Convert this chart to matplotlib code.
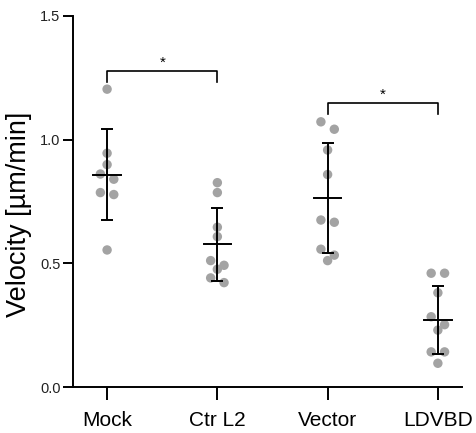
import numpy as np
import matplotlib
matplotlib.use("Agg")
import matplotlib.pyplot as plt

plt.rcParams["font.family"] = ["Liberation Sans", "DejaVu Sans"]

# data
groups = ["Mock", "Ctr L2", "Vector", "LDVBD"]
mock = [1.204, 0.945, 0.899, 0.861, 0.840, 0.786, 0.778, 0.554]
ctr_l2 = [0.826, 0.786, 0.646, 0.608, 0.511, 0.492, 0.476, 0.441, 0.422]
vector = [1.072, 1.042, 0.958, 0.859, 0.675, 0.666, 0.557, 0.533, 0.511]
ldvbd = [0.460, 0.460, 0.381, 0.284, 0.252, 0.230, 0.142, 0.142, 0.096]
means = [0.859, 0.577, 0.764, 0.271]
sds = [0.182, 0.148, 0.223, 0.137]
# significance brackets: (group a, group b, height, label)
brackets = [(0, 1, 1.279, "*"), (2, 3, 1.150, "*")]

values = [mock, ctr_l2, vector, ldvbd]


def swarm_offsets(vals, ax, row_px=8.5, step_px=6.7):
    """Group close values into rows and spread each row symmetrically."""
    to_px = ax.transData.transform
    y_scale = abs(to_px((0, 1))[1] - to_px((0, 0))[1])
    x_scale = abs(to_px((1, 0))[0] - to_px((0, 0))[0])
    order = np.argsort(vals)[::-1]
    vals = np.asarray(vals)
    offsets = np.zeros(len(vals))
    rows = []
    for i in order:
        if rows and (vals[rows[-1][0]] - vals[i]) * y_scale < row_px:
            rows[-1].append(i)
        else:
            rows.append([i])
    for row in rows:
        n = len(row)
        for k, i in enumerate(row):
            offsets[i] = (2 * k - (n - 1)) * step_px / x_scale
    return offsets


fig = plt.figure(figsize=(4.76, 4.33), dpi=100)
ax = fig.add_axes([0.1534, 0.1062, 0.817, 0.857])
ax.set_xlim(-0.309, 3.218)
ax.set_ylim(0, 1.5)

for i, v in enumerate(values):
    off = swarm_offsets(v, ax)
    ax.scatter(i + off, v, s=46, color="#a3a3a3", edgecolors="none", zorder=2)
    ax.errorbar(i, means[i], yerr=sds[i], fmt="none", ecolor="black",
                elinewidth=1.4, capsize=4.5, capthick=1.4, zorder=3)
    ax.plot([i - 0.125, i + 0.125], [means[i], means[i]], color="black",
            lw=1.4, zorder=3)

for a, b, h, lab in brackets:
    drop = 0.045
    ax.plot([a, a, b, b], [h - drop, h, h, h - drop], color="black", lw=1.2,
            clip_on=False)
    ax.text((a + b) / 2, h + 0.005, lab, ha="center", va="bottom", fontsize=11)

ax.set_xticks(range(len(groups)))
ax.set_xticklabels(groups, fontsize=15)
ax.set_yticks([0.0, 0.5, 1.0, 1.5])
ax.set_yticklabels(["0.0", "0.5", "1.0", "1.5"], fontsize=10.5, color="#222222")
ax.set_ylabel("Velocity [µm/min]", fontsize=19.5)
ax.yaxis.set_label_coords(-0.105, 0.466)

for side in ["top", "right"]:
    ax.spines[side].set_visible(False)
for side in ["left", "bottom"]:
    ax.spines[side].set_linewidth(1.4)
ax.tick_params(axis="y", length=7, width=1.4, pad=2)
ax.tick_params(axis="x", length=9.5, width=1.4, pad=8)

fig.savefig("out.png", dpi=100)
